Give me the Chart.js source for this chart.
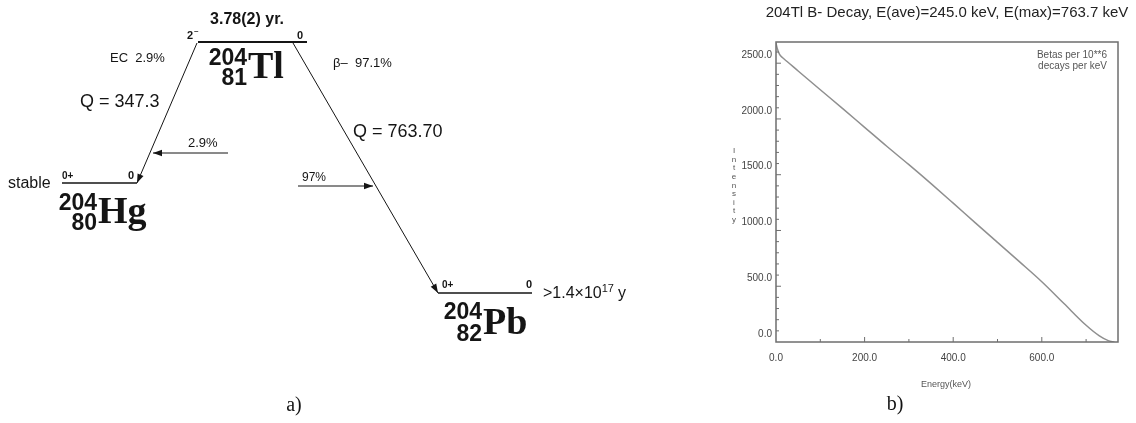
<!DOCTYPE html>
<html>
<head>
<meta charset="utf-8">
<script src="https://cdn.jsdelivr.net/npm/chart.js@4.4.1/dist/chart.umd.min.js"></script>
<style>
  body { margin: 0; background: #fff; width: 1136px; height: 423px; overflow: hidden; position: relative; }
  canvas { position: absolute; top: 0; }
  #scheme { left: 0; }
  #spectrum { left: 716px; }
</style>
</head>
<body>
<canvas id="scheme" width="716" height="423"></canvas>
<canvas id="spectrum" width="420" height="423"></canvas>
<script>
// ---- b) beta spectrum ----
const energyKeV = [0, 3, 8, 15, 25, 50, 100, 150, 200, 250, 300, 350, 400, 450, 500, 550, 600, 650, 700, 730, 750, 763.7];
const intensity = [2680, 2630, 2580, 2548, 2515, 2430, 2262, 2095, 1925, 1755, 1590, 1420, 1245, 1068, 893, 718, 540, 345, 150, 55, 12, 0];
const xTickValues = [0, 200, 400, 600];
const yTickValues = [0, 500, 1000, 1500, 2000, 2500];
const spectrumTitle = '204Tl B- Decay, E(ave)=245.0 keV, E(max)=763.7 keV';
const unitNote = ['Betas per 10**6', 'decays per keV'];

// ---- a) decay scheme ----
const halfLife = '3.78(2) yr.';
const massNumbers = ['204', '204', '204'];
const atomicNumbers = ['81', '80', '82'];
const symbols = ['Tl', 'Hg', 'Pb'];
const spins = ['2', '0+', '0+'];
const levelEnergies = ['0', '0', '0'];
const branchLabels = ['EC  2.9%', 'β–  97.1%'];
const qValues = ['Q = 347.3', 'Q = 763.70'];
const feedLabels = ['2.9%', '97%'];
const lifetimes = ['stable', '>1.4×10'];

// geometry of the scheme (diagram units = pixels of the left panel)
const geo = {
  levels: [
    { x1: 198, x2: 307, y: 42, w: 2 },
    { x1: 62, x2: 137, y: 183, w: 1.5 },
    { x1: 438, x2: 532, y: 293, w: 1.5 }
  ],
  arrows: [
    [{ x: 197, y: 43 }, { x: 137, y: 183 }],
    [{ x: 293, y: 43 }, { x: 438, y: 293 }],
    [{ x: 228, y: 153 }, { x: 153, y: 153 }],
    [{ x: 298, y: 186 }, { x: 373, y: 186 }]
  ]
};

const ink = '#151515';
const sans = '"Liberation Sans", Arial, sans-serif';
const serif = '"Liberation Serif", "Times New Roman", serif';

const schemeDatasets = [];
geo.levels.forEach(l => schemeDatasets.push({
  data: [{ x: l.x1, y: l.y }, { x: l.x2, y: l.y }],
  showLine: true, borderColor: ink, borderWidth: l.w, pointRadius: 0
}));
geo.arrows.forEach(a => schemeDatasets.push({
  data: a, showLine: true, borderColor: ink, borderWidth: 1, pointRadius: 0, arrow: true
}));

function put(ctx, s, x, y, font, align, base) {
  ctx.font = font;
  ctx.textAlign = align || 'left';
  ctx.textBaseline = base || 'middle';
  ctx.fillText(s, x, y);
}

const schemeDecor = {
  id: 'schemeDecor',
  afterDatasetsDraw(chart) {
    const ctx = chart.ctx;
    const sx = chart.scales.x, sy = chart.scales.y;
    ctx.save();
    ctx.fillStyle = ink;
    // arrow heads
    chart.data.datasets.forEach(ds => {
      if (!ds.arrow) return;
      const p0 = ds.data[ds.data.length - 2], p1 = ds.data[ds.data.length - 1];
      const x0 = sx.getPixelForValue(p0.x), y0 = sy.getPixelForValue(p0.y);
      const x1 = sx.getPixelForValue(p1.x), y1 = sy.getPixelForValue(p1.y);
      const ang = Math.atan2(y1 - y0, x1 - x0);
      const len = 9, half = 3.2;
      ctx.beginPath();
      ctx.moveTo(x1, y1);
      ctx.lineTo(x1 - len * Math.cos(ang) + half * Math.sin(ang), y1 - len * Math.sin(ang) - half * Math.cos(ang));
      ctx.lineTo(x1 - len * Math.cos(ang) - half * Math.sin(ang), y1 - len * Math.sin(ang) + half * Math.cos(ang));
      ctx.closePath();
      ctx.fill();
    });

    // half-life
    put(ctx, halfLife, 247, 20, 'bold 16px ' + sans, 'center');
    // spins and level energies
    put(ctx, spins[0], 187, 36, 'bold 11px ' + sans);
    put(ctx, '–', 194, 31, 'bold 8px ' + sans);
    put(ctx, levelEnergies[0], 297, 36, 'bold 11px ' + sans);
    put(ctx, spins[1], 62, 176, 'bold 10px ' + sans);
    put(ctx, levelEnergies[1], 128, 176, 'bold 11px ' + sans);
    put(ctx, spins[2], 442, 285, 'bold 10px ' + sans);
    put(ctx, levelEnergies[2], 526, 285, 'bold 11px ' + sans);

    // nuclides
    const nuc = [
      { xr: 247, ya: 59, yz: 79, base: 78 },
      { xr: 97, ya: 204, yz: 224, base: 223 },
      { xr: 482, ya: 313, yz: 335, base: 334 }
    ];
    nuc.forEach((n, i) => {
      put(ctx, massNumbers[i], n.xr, n.ya, 'bold 23px ' + sans, 'right');
      put(ctx, atomicNumbers[i], n.xr, n.yz, 'bold 23px ' + sans, 'right');
      put(ctx, symbols[i], n.xr + 1, n.base, 'bold 38px ' + serif, 'left', 'alphabetic');
    });

    // branches
    put(ctx, branchLabels[0], 110, 58, '13px ' + sans);
    put(ctx, branchLabels[1], 333, 63, '13px ' + sans);
    put(ctx, qValues[0], 80, 102, '18px ' + sans);
    put(ctx, qValues[1], 353, 132, '18px ' + sans);
    put(ctx, feedLabels[0], 188, 143, '13px ' + sans);
    put(ctx, feedLabels[1], 302, 178, '12px ' + sans);

    // lifetimes
    put(ctx, lifetimes[0], 8, 184, '16px ' + sans);
    ctx.font = '16px ' + sans;
    const w = ctx.measureText(lifetimes[1]).width;
    put(ctx, lifetimes[1], 543, 294, '16px ' + sans);
    put(ctx, '17', 543 + w, 289, '11px ' + sans);
    ctx.font = '11px ' + sans;
    const w2 = ctx.measureText('17').width;
    put(ctx, 'y', 543 + w + w2 + 4, 294, '16px ' + sans);

    // panel label
    put(ctx, 'a)', 294, 406, '20px ' + serif, 'center');
    ctx.restore();
  }
};

new Chart(document.getElementById('scheme'), {
  type: 'scatter',
  data: { datasets: schemeDatasets },
  options: {
    responsive: false,
    animation: false,
    devicePixelRatio: 1,
    layout: { padding: 0 },
    plugins: { legend: { display: false }, tooltip: { enabled: false } },
    scales: {
      x: { type: 'linear', min: 0, max: 716, display: false },
      y: { type: 'linear', min: 0, max: 423, reverse: true, display: false }
    }
  },
  plugins: [schemeDecor]
});

// ---- spectrum chart ----
const boxColor = '#6e6e6e';
const labelColor = '#444';

const spectrumDecor = {
  id: 'spectrumDecor',
  afterDatasetsDraw(chart) {
    const ctx = chart.ctx;
    const a = chart.chartArea;
    const sx = chart.scales.x, sy = chart.scales.y;
    ctx.save();
    // frame
    ctx.strokeStyle = boxColor;
    ctx.lineWidth = 1.5;
    ctx.strokeRect(a.left, a.top, a.right - a.left, a.bottom - a.top);
    // inward ticks
    ctx.lineWidth = 1;
    ctx.beginPath();
    for (let v = 100; v < sx.max; v += 100) {
      const px = sx.getPixelForValue(v);
      const len = v % 200 === 0 ? 5 : 3;
      ctx.moveTo(px, a.bottom);
      ctx.lineTo(px, a.bottom - len);
    }
    for (let v = 100; v < sy.max; v += 100) {
      const py = sy.getPixelForValue(v);
      const len = v % 500 === 0 ? 5 : 3;
      ctx.moveTo(a.left, py);
      ctx.lineTo(a.left + len, py);
    }
    ctx.stroke();

    ctx.fillStyle = '#222';
    put(ctx, spectrumTitle, 231, 13, '15px ' + sans, 'center');
    ctx.fillStyle = '#555';
    put(ctx, unitNote[0], 391, 55, '10px ' + sans, 'right');
    put(ctx, unitNote[1], 391, 66, '10px ' + sans, 'right');
    put(ctx, 'Energy(keV)', 230, 385, '9px ' + sans, 'center');
    // stacked axis title
    'Intensity'.split('').forEach((c, i) => put(ctx, c, 18, 151 + i * 8.6, '8px ' + sans, 'center'));
    ctx.fillStyle = '#111';
    put(ctx, 'b)', 179, 405, '20px ' + serif, 'center');
    ctx.restore();
  }
};

new Chart(document.getElementById('spectrum'), {
  type: 'scatter',
  data: {
    datasets: [{
      data: energyKeV.map((e, i) => ({ x: e, y: intensity[i] })),
      showLine: true,
      borderColor: '#8f8f8f',
      borderWidth: 1.5,
      pointRadius: 0,
      cubicInterpolationMode: 'monotone'
    }]
  },
  options: {
    responsive: false,
    animation: false,
    devicePixelRatio: 1,
    layout: { padding: { top: 42, right: 18, left: 0, bottom: 0 } },
    plugins: { legend: { display: false }, tooltip: { enabled: false } },
    scales: {
      x: {
        type: 'linear', min: 0, max: 772,
        grid: { display: false, drawTicks: false },
        border: { display: false },
        afterBuildTicks: s => { s.ticks = xTickValues.map(v => ({ value: v })); },
        afterFit: s => { s.height = 81; },
        ticks: { padding: 10, color: labelColor, font: { size: 10, family: sans }, callback: v => v.toFixed(1), maxRotation: 0 }
      },
      y: {
        type: 'linear', min: 0, max: 2690,
        grid: { display: false, drawTicks: false },
        border: { display: false },
        afterBuildTicks: s => { s.ticks = yTickValues.map(v => ({ value: v })); },
        afterFit: s => { s.width = 60; },
        ticks: { padding: 4, labelOffset: -8, color: labelColor, font: { size: 10, family: sans }, callback: v => v.toFixed(1) }
      }
    }
  },
  plugins: [spectrumDecor]
});
</script>
</body>
</html>
